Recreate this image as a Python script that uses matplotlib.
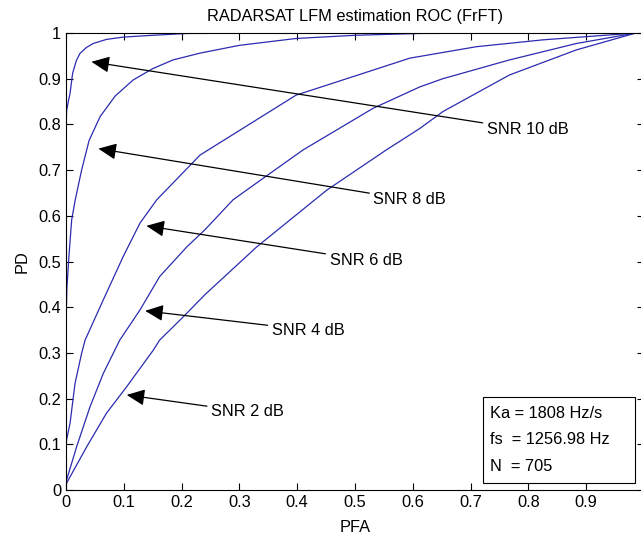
import numpy as np
import matplotlib.pyplot as plt
from matplotlib.patches import Rectangle

plt.rcParams['font.family'] = ['Liberation Sans', 'DejaVu Sans']
FS = 11.8

# ROC curves (PFA, PD)
pfa_10 = [0, 0.001, 0.004, 0.007, 0.0115, 0.018, 0.024, 0.035, 0.047, 0.07, 0.099, 0.15, 0.21, 0.4, 0.7, 0.986, 1.0]
pd_10 = [0.78, 0.83, 0.85, 0.868, 0.912, 0.94, 0.955, 0.968, 0.977, 0.986, 0.991, 0.995, 0.999, 1.0, 1.0, 1.0, 1.0]

pfa_8 = [0, 0.0015, 0.005, 0.0098, 0.016, 0.027, 0.04, 0.059, 0.085, 0.116, 0.15, 0.185, 0.232, 0.3, 0.398,
         0.5, 0.612, 0.8, 1.0]
pd_8 = [0.36, 0.44, 0.51, 0.591, 0.635, 0.70, 0.765, 0.817, 0.862, 0.897, 0.922, 0.941, 0.956, 0.973, 0.988,
        0.995, 0.999, 1.0, 1.0]

pfa_6 = [0, 0.001, 0.007, 0.0156, 0.027, 0.033, 0.0645, 0.099, 0.128, 0.157, 0.232, 0.398, 0.595,
         0.71, 0.825, 0.9, 0.986, 1.0]
pd_6 = [0.08, 0.11, 0.146, 0.233, 0.299, 0.328, 0.416, 0.511, 0.584, 0.635, 0.733, 0.864, 0.945,
        0.97, 0.985, 0.992, 1.0, 1.0]

pfa_4 = [0, 0.001, 0.0185, 0.0415, 0.0645, 0.093, 0.128, 0.162, 0.209, 0.24, 0.289, 0.341, 0.41,
         0.531, 0.612, 0.652, 0.767, 0.883, 0.986, 1.0]
pd_4 = [0, 0.022, 0.095, 0.182, 0.255, 0.328, 0.394, 0.467, 0.532, 0.569, 0.635, 0.682, 0.744,
        0.835, 0.882, 0.9, 0.941, 0.977, 1.0, 1.0]

pfa_2 = [0, 0.001, 0.036, 0.07, 0.105, 0.151, 0.162, 0.203, 0.24, 0.33, 0.451, 0.554, 0.612,
         0.652, 0.767, 0.883, 0.986, 1.0]
pd_2 = [0, 0.015, 0.095, 0.168, 0.226, 0.306, 0.328, 0.379, 0.427, 0.532, 0.656, 0.744, 0.791,
        0.828, 0.908, 0.963, 1.0, 1.0]

curves = [(pfa_10, pd_10), (pfa_8, pd_8), (pfa_6, pd_6), (pfa_4, pd_4), (pfa_2, pd_2)]

# labels: text, arrow head (PFA, PD), text anchor (PFA, PD)
labels = ['SNR 10 dB', 'SNR 8 dB', 'SNR 6 dB', 'SNR 4 dB', 'SNR 2 dB']
heads = [(0.044, 0.937), (0.056, 0.747), (0.139, 0.578), (0.137, 0.392), (0.105, 0.208)]
anchors = [(0.728, 0.788), (0.532, 0.635), (0.456, 0.503), (0.356, 0.350), (0.251, 0.171)]

info = ['Ka = 1808 Hz/s', 'fs  = 1256.98 Hz', 'N  = 705']

fig = plt.figure(figsize=(6.41, 5.44), dpi=100)
ax = fig.add_axes([66 / 641, 54 / 544, 578 / 641, 457 / 544])

for x, y in curves:
    ax.plot(x, y, color='#2b2bb0', lw=0.9)

for lab, h, a in zip(labels, heads, anchors):
    ax.annotate(lab, xy=h, xytext=a, ha='left', va='center', fontsize=FS,
                arrowprops=dict(arrowstyle='-|>,head_length=0.55,head_width=0.25',
                                color='k', lw=0.9, mutation_scale=20,
                                shrinkA=1, shrinkB=0))

ax.add_patch(Rectangle((0.721, 0.015), 0.263, 0.189, transform=ax.transAxes,
                       fill=False, edgecolor='k', lw=0.8, zorder=5))
for i, t in enumerate(info):
    ax.text(0.733, 0.168 - i * 0.058, t, transform=ax.transAxes, fontsize=FS,
            ha='left', va='center')

ax.set_xlim(0, 1)
ax.set_ylim(0, 1)
ax.set_xticks(np.arange(0, 1.01, 0.1))
ax.set_xticklabels(['0', '0.1', '0.2', '0.3', '0.4', '0.5', '0.6', '0.7', '0.8', '0.9', ''])
ax.set_yticks(np.arange(0, 1.01, 0.1))
ax.set_yticklabels(['0', '0.1', '0.2', '0.3', '0.4', '0.5', '0.6', '0.7', '0.8', '0.9', '1'])
ax.tick_params(direction='in', top=True, right=True, length=5, width=0.8, labelsize=FS)
for s in ax.spines.values():
    s.set_linewidth(0.8)

ax.set_xlabel('PFA', fontsize=FS, labelpad=7)
ax.set_ylabel('PD', fontsize=FS, labelpad=6)
ax.set_title('RADARSAT LFM estimation ROC (FrFT)', fontsize=FS, pad=9)

fig.savefig('out.png', dpi=100)
